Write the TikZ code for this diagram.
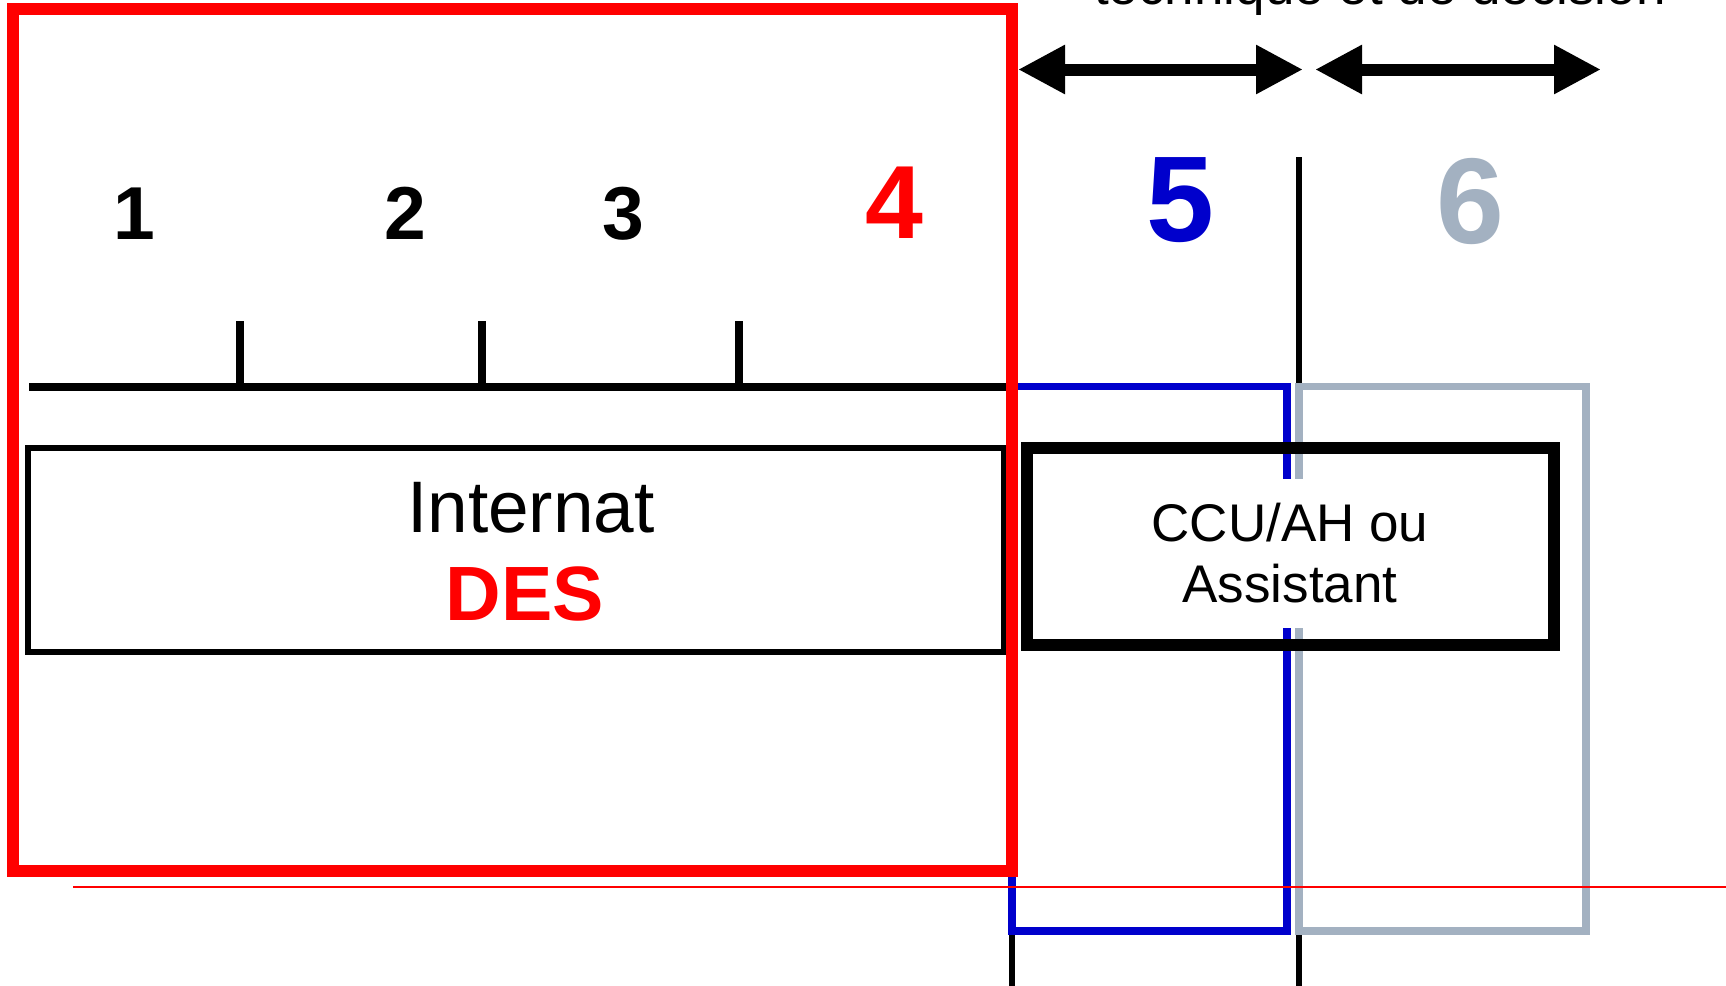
\documentclass[tikz,border=0pt]{standalone}
\usepackage{fontspec}
\setsansfont{Liberation Sans}
\RequirePackage{xcolor}
\tikzset{every picture/.style={/utils/exec={\sffamily}}}
\usetikzlibrary{calc}
\usetikzlibrary{positioning}
\usetikzlibrary{arrows.meta}

\definecolor{desred}{HTML}{FF0000}
\definecolor{phaseblue}{HTML}{0000CC}
\definecolor{phasegray}{HTML}{A3B1C1}

\begin{document}
\begin{tikzpicture}[x=0.5pt,y=-0.5pt,
  every node/.style={inner sep=0pt,outer sep=0pt},
  yr/.style={anchor=base,font=\bfseries\fontsize{37.5}{37.5}\selectfont},
  span/.style={line width=6pt,arrows={Triangle[length=23.5pt,width=23pt]-Triangle[length=23.5pt,width=23pt]}}]
  \useasboundingbox (0,0) rectangle (1726,986);

  \node [anchor=base,font=\fontsize{26.5}{26.5}\selectfont] (title) at (1380,4) {technique et de décision};

  \coordinate (p5w) at (1018,69.5);
  \coordinate (p5e) at (1303,69.5);
  \coordinate (p6w) at (1315,69.5);
  \coordinate (p6e) at (1601,69.5);
  \draw [span] (p5w) -- (p5e);
  \draw [span] (p6w) -- (p6e);

  \node [yr] (yr1) at (134,239) {1};
  \node [yr] (yr2) at (405,239) {2};
  \node [yr] (yr3) at (623,239) {3};
  \node [yr, desred, font=\bfseries\fontsize{52}{52}\selectfont] (yr4) at (894.5,238) {4};
  \node [yr, phaseblue, font=\bfseries\fontsize{61}{61}\selectfont] (yr5) at (1180,241) {5};
  \node [yr, phasegray, font=\bfseries\fontsize{61}{61}\selectfont] (yr6) at (1470,243) {6};

  \draw [line width=4pt] (29,386.5) -- (1007,386.5);
  \foreach \x in {240,482,739}
    \draw [line width=4pt] (\x,321) -- (\x,386.5);

  \draw [line width=3.3pt] (1299,157) -- (1299,986);
  \draw [line width=3.3pt] (1012,931) -- (1012,986);
  \draw [phaseblue, line width=3.9pt] (1012,386.5) rectangle (1287,931);
  \draw [phasegray, line width=3.9pt] (1299,386.5) rectangle (1586,931);

  \node [draw, line width=3pt, minimum width=488pt, minimum height=102pt] (internat) at (516.2,549.6) {};
  \node [anchor=base, font=\fontsize{36.5}{36.5}\selectfont] (intlabel) at (531,532) {Internat};
  \node [anchor=base, desred, font=\bfseries\fontsize{38.5}{38.5}\selectfont] (des) at (525,620) {DES};

  \node [draw, line width=6pt, minimum width=263.5pt, minimum height=98.5pt] (ccu) at (1290,546) {};
  \node [fill=white, align=center, minimum height=74.5pt, font=\fontsize{26.5}{30.5}\selectfont] (ccutext) at ([yshift=-3.5pt]ccu) {CCU/AH ou\\Assistant};

  \draw [desred, line width=6pt] (13,9) rectangle (1012,871);
  \draw [desred, line width=0.8pt] (73,887) -- (1726,887);
\end{tikzpicture}
\end{document}
